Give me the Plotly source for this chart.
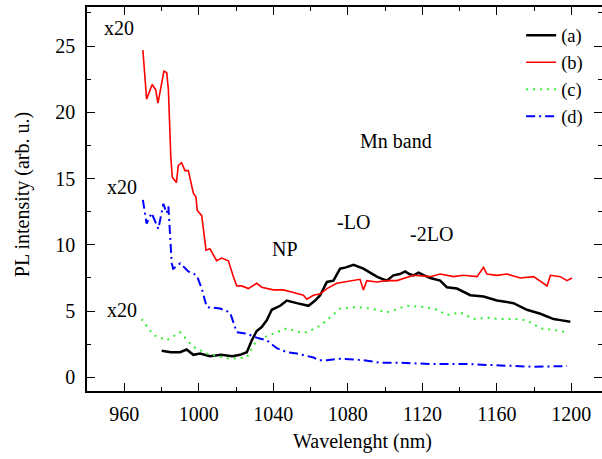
import plotly.graph_objects as go

# (a) black
wl_a = [980.1, 985, 990, 993.5, 997.1, 1000.7, 1006, 1012, 1018, 1022.2, 1025.8, 1028.5, 1031.1, 1033.8,
        1036.5, 1039.2, 1043.7, 1047.3, 1052.6, 1056, 1058.9, 1062.5, 1065.2, 1068.8, 1072.3, 1075.9,
        1079, 1083.1, 1088.4, 1092, 1095.6, 1099, 1101, 1104.5, 1108, 1110.8, 1113, 1115.3, 1118,
        1121, 1124.3, 1129.6, 1133.2, 1138.6, 1145.8, 1152.9, 1160.1, 1169, 1176.2, 1183.4, 1190.5,
        1195, 1199.5]
int_a = [2.0, 1.9, 1.9, 2.1, 1.7, 1.8, 1.6, 1.7, 1.6, 1.7, 1.9, 2.8, 3.5, 3.8,
         4.3, 5.1, 5.4, 5.8, 5.6, 5.5, 5.4, 5.8, 6.2, 7.2, 7.3, 8.2,
         8.3, 8.5, 8.2, 7.9, 7.6, 7.4, 7.3, 7.7, 7.8, 8.0, 7.8, 7.7, 7.9,
         7.7, 7.5, 7.3, 6.8, 6.7, 6.2, 6.1, 5.8, 5.6, 5.1, 4.8, 4.4,
         4.3, 4.2]

# (b) red
wl_b = [970, 972, 975, 976.9, 978.1, 981.3, 982.8, 983.7, 985, 985.8, 988, 989, 990.8, 992.6, 994.4,
        997.1, 998.5, 999.2, 1001.6, 1003.9, 1006, 1009.6, 1012.3, 1015.9, 1018.6, 1020.4, 1023.1,
        1026.6, 1031.1, 1033.8, 1040, 1045.4, 1050.8, 1056.2, 1058, 1061.6, 1065.2, 1068.8, 1074.1,
        1077.7, 1083.1, 1086.6, 1088.4, 1090.2, 1095.6, 1101, 1106.4, 1115.3, 1124.3, 1129.6, 1136.8,
        1142, 1149.4, 1152.9, 1154.7, 1160, 1165.5, 1172.6, 1179.8, 1187, 1188.8, 1194.1, 1197.7, 1200.4]
int_b = [24.7, 21.0, 22.1, 21.7, 20.7, 23.1, 23.0, 21.7, 16.6, 15.1, 14.7, 16.0, 16.2, 15.6, 15.6,
         13.9, 13.6, 12.6, 12.2, 9.6, 9.7, 8.8, 9.0, 8.8, 7.6, 6.9, 6.9,
         6.7, 7.1, 6.8, 6.6, 6.6, 6.4, 6.2, 5.9, 6.2, 6.3, 6.7, 7.1,
         7.2, 7.3, 7.4, 6.6, 7.3, 7.2, 7.3, 7.3, 7.7, 7.6, 7.8, 7.6,
         7.7, 7.6, 8.3, 7.8, 7.7, 7.8, 7.5, 7.6, 6.9, 7.7, 7.6, 7.3, 7.5]

# (c) green
wl_c = [969.3, 975.6, 982.8, 990, 997.1, 1004.3, 1010, 1016.8, 1025.8, 1031.1, 1040, 1047.3, 1054.4,
        1058, 1065.2, 1068.8, 1075.9, 1084.9, 1092, 1101, 1111.7, 1122.5, 1128, 1133.2, 1140.4,
        1147.5, 1155, 1162, 1170, 1176.2, 1183.4, 1190, 1197.7]
int_c = [4.4, 3.2, 2.8, 3.4, 2.3, 1.8, 1.6, 1.4, 1.5, 2.8, 3.3, 3.7, 3.4,
         3.4, 3.9, 4.3, 5.2, 5.3, 5.2, 4.9, 5.4, 5.3, 5.1, 4.7, 4.9,
         4.4, 4.5, 4.4, 4.4, 4.3, 3.7, 3.6, 3.4]

# (d) blue
wl_d = [970, 972, 974.7, 978.3, 981, 982.8, 983.7, 985.5, 986.3, 990, 994.4, 998.9, 1001.6, 1004.3,
        1011.4, 1016.8, 1020.4, 1025.8, 1031.1, 1036.5, 1041.9, 1047.3, 1052.6, 1061.6, 1064.3,
        1068.8, 1075.9, 1088.4, 1097.4, 1108.1, 1126, 1144, 1161.9, 1179.8, 1197.7]
int_d = [13.4, 11.6, 12.4, 11.2, 13.1, 12.4, 12.9, 8.6, 8.2, 8.6, 8.0, 7.7, 6.7, 5.3,
         5.2, 4.9, 3.4, 3.3, 3.0, 2.8, 2.2, 1.9, 1.8, 1.5, 1.3,
         1.3, 1.4, 1.3, 1.1, 1.1, 1.0, 1.0, 0.9, 0.8, 0.85]

x_ticks = [960, 1000, 1040, 1080, 1120, 1160, 1200]
y_ticks = [0, 5, 10, 15, 20, 25]

font = "Liberation Serif"
fs = 20

fig = go.Figure()
fig.add_trace(go.Scatter(x=wl_a, y=int_a, mode="lines", name="(a)",
                         line=dict(color="black", width=2.5)))
fig.add_trace(go.Scatter(x=wl_b, y=int_b, mode="lines", name="(b)",
                         line=dict(color="#ff0000", width=1.6)))
fig.add_trace(go.Scatter(x=wl_c, y=int_c, mode="lines", name="(c)",
                         line=dict(color="#33ee33", width=2, dash="2px,5px")))
fig.add_trace(go.Scatter(x=wl_d, y=int_d, mode="lines", name="(d)",
                         line=dict(color="#0000ff", width=2, dash="9px,4px,2px,4px")))

annots = [
    ("x20", 948.9, 26.4),
    ("x20", 950.7, 14.4),
    ("x20", 950.7, 5.1),
    ("NP", 1039.4, 9.7),
    ("-LO", 1074.2, 11.7),
    ("-2LO", 1113.6, 10.8),
    ("Mn band", 1086.6, 17.8),
]
for t, x, y in annots:
    fig.add_annotation(x=x, y=y, text=t, showarrow=False, xanchor="left", yanchor="middle",
                       xshift=-2, font=dict(family=font, size=fs, color="black"))

# axis titles
fig.add_annotation(xref="paper", yref="paper", x=0.535, y=0, yshift=-50, yanchor="middle",
                   text="Wavelenght (nm)", showarrow=False,
                   font=dict(family=font, size=fs, color="black"))
fig.add_annotation(xref="paper", yref="paper", x=0, xshift=-65, y=0.51, xanchor="center",
                   text="PL intensity (arb. u.)", showarrow=False, textangle=-90,
                   font=dict(family=font, size=fs, color="black"))

axis_common = dict(
    showline=True, linecolor="black", linewidth=1.5, mirror="allticks",
    ticks="inside", ticklen=8, tickwidth=1.2, tickcolor="black",
    showgrid=False, zeroline=False, automargin=False,
    tickfont=dict(family=font, size=fs, color="black"),
)

fig.update_xaxes(range=[940, 1216.5], tickvals=x_ticks, ticklabelstandoff=4,
                 minor=dict(dtick=20, ticks="inside", ticklen=4, tickcolor="black", tick0=940),
                 **axis_common)
fig.update_yaxes(range=[-1.03, 27.95], tickvals=y_ticks, ticklabelstandoff=6,
                 minor=dict(dtick=2.5, ticks="inside", ticklen=4, tickcolor="black", tick0=0),
                 **axis_common)

fig.update_layout(
    width=602, height=459,
    margin=dict(l=87, r=0, t=7, b=68),
    paper_bgcolor="white", plot_bgcolor="white",
    showlegend=True,
    legend=dict(x=0.843, y=0.975, xanchor="left", yanchor="top",
                font=dict(family=font, size=18.5, color="black"),
                bgcolor="rgba(0,0,0,0)", tracegroupgap=0),
)

fig.write_html("out.html", config={"displayModeBar": False},
               post_script="document.body.style.margin='0';")
